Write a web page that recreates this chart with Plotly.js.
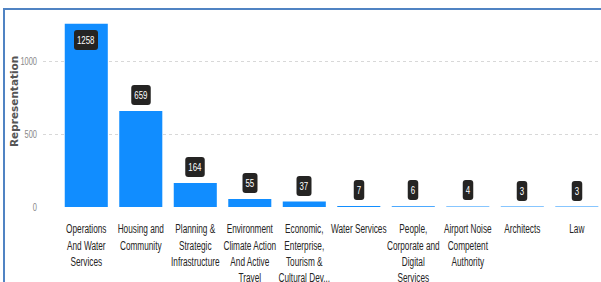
<!DOCTYPE html>
<html>
<head>
<meta charset="utf-8">
<script src="https://cdn.plot.ly/plotly-3.0.1.min.js"></script>
<style>
html,body{margin:0;padding:0;background:#fff;overflow:hidden;}
#frame{position:absolute;left:3px;top:8px;width:700px;height:400px;border-left:2px solid #5083c3;border-top:2px solid #5083c3;box-sizing:border-box;}
#chart{position:absolute;left:0;top:0;width:601px;height:282px;}
</style>
</head>
<body>
<div id="frame"></div>
<div id="chart"></div>
<script>
const categories = [
  "Operations<br>And Water<br>Services",
  "Housing and<br>Community",
  "Planning &<br>Strategic<br>Infrastructure",
  "Environment<br>Climate Action<br>And Active<br>Travel",
  "Economic,<br>Enterprise,<br>Tourism &<br>Cultural Dev...",
  "Water Services",
  "People,<br>Corporate and<br>Digital<br>Services",
  "Airport Noise<br>Competent<br>Authority",
  "Architects",
  "Law"
];
const values = [1258, 659, 164, 55, 37, 7, 6, 4, 3, 3];
const yTicks = [0, 500, 1000];
const yTickLabels = ["0", "500", "1000"];
const yMax = 1318;

const sans = "'Liberation Sans', Arial, sans-serif";

const annotations = values.map((v, i) => {
  const inside = v > yMax * 0.9;
  return {
    x: i, y: v, xref: 'x', yref: 'y',
    text: String(v),
    showarrow: false,
    yanchor: inside ? 'top' : 'bottom',
    yshift: inside ? -6 : 6,
    bgcolor: '#252423',
    borderpad: 4,
    borderwidth: 0,
    font: {family: sans, size: 10.5, color: '#ffffff'}
  };
});
annotations.push({
  xref: 'paper', yref: 'paper', x: -0.052, y: 0.552,
  xanchor: 'center', yanchor: 'middle',
  text: 'Representation', textangle: -90, showarrow: false,
  font: {family: "'DejaVu Sans', sans-serif", size: 10.5, color: '#555555', weight: 'bold'}
});

const trace = {
  type: 'bar',
  x: categories.map((c, i) => i),
  y: values,
  marker: {color: '#118dff'},
  hoverinfo: 'none'
};

const layout = {
  width: 601, height: 282,
  margin: {l: 43, r: 0, t: 15, b: 75, pad: 0},
  paper_bgcolor: 'rgba(0,0,0,0)',
  plot_bgcolor: 'rgba(0,0,0,0)',
  bargap: 0.21,
  showlegend: false,
  xaxis: {
    range: [-0.794, 9.444],
    tickmode: 'array',
    tickvals: categories.map((c, i) => i),
    ticktext: categories,
    showgrid: false, zeroline: false, showline: false,
    ticks: '',
    ticklabelstandoff: 13,
    tickangle: 0,
    tickfont: {family: sans, size: 12.5, color: '#252423'},
    fixedrange: true
  },
  yaxis: {
    range: [0, yMax],
    tickmode: 'array',
    tickvals: yTicks,
    ticktext: yTickLabels,
    showgrid: true, gridcolor: '#d8d8d8', griddash: 'dot', gridwidth: 1,
    zeroline: false, showline: false,
    ticks: '',
    ticklabelstandoff: 5,
    tickfont: {family: sans, size: 11, color: '#888888'},
    fixedrange: true
  },
  annotations: annotations
};

function condense(nodes, s) {
  nodes.forEach(t => {
    const x = parseFloat(t.getAttribute('x')) || 0;
    const prev = t.getAttribute('transform') || '';
    t.setAttribute('transform', prev + ` translate(${x},0) scale(${s},1) translate(${-x},0)`);
  });
}

function condenseGroups(nodes, s) {
  nodes.forEach(g => {
    const bb = g.getBBox();
    const cx = bb.x + bb.width / 2;
    const prev = g.getAttribute('transform') || '';
    g.setAttribute('transform', prev + ` translate(${cx},0) scale(${s},1) translate(${-cx},0)`);
    const bg = g.querySelector('rect.bg');
    if (bg) { bg.setAttribute('rx', 4); bg.setAttribute('ry', 3); }
  });
}

Plotly.newPlot('chart', [trace], layout, {displayModeBar: false, staticPlot: true}).then(gd => {
  condense(gd.querySelectorAll('g.xtick > text'), 0.66);
  condense(gd.querySelectorAll('g.ytick > text'), 0.68);
  const groups = Array.from(gd.querySelectorAll('g.annotation-text-g')).slice(0, values.length);
  condenseGroups(groups, 0.75);
});
</script>
</body>
</html>
